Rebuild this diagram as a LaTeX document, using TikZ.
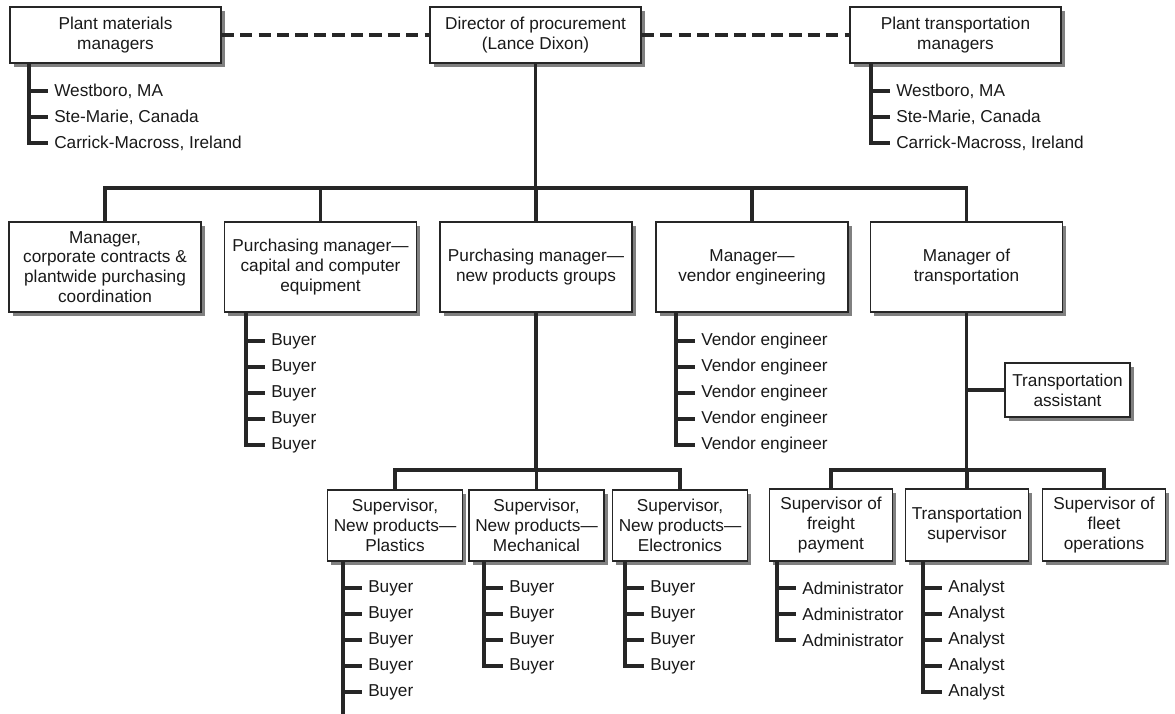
\documentclass[tikz,border=0pt]{standalone}
\usepackage{fontspec}
\setmainfont{Liberation Sans}
\usetikzlibrary{shadows}

\tikzset{
  box/.style={draw=black!85, fill=white, line width=0.8pt, align=center, inner sep=0pt,
    text=black!90, font=\fontsize{9.8}{11.3}\selectfont,
    drop shadow={shadow xshift=2.2pt, shadow yshift=-2.2pt, fill=black!50, opacity=1}},
  topbox/.style={box, minimum width=4.22cm, minimum height=1.12cm},
  midbox/.style={box, minimum width=3.84cm, minimum height=1.8cm},
  lowbox/.style={box, minimum width=2.7cm, minimum height=1.42cm},
  trbox/.style={box, minimum width=2.46cm, minimum height=1.44cm},
  member/.style={anchor=west, inner xsep=4.5pt, inner ysep=0pt, text=black!90,
    font=\fontsize{9.8}{11.3}\selectfont},
  conn/.style={line width=2.1pt, black!85, line cap=rect},
  dashline/.style={line width=2.1pt, black!85, dash pattern=on 7pt off 3.5pt},
}

\begin{document}
\begin{tikzpicture}[x=0.02cm, y=-0.02cm]
  \useasboundingbox (0,0) rectangle (1175,713);

  % top row
  \node[topbox] (pmm) at (115.5,35) {Plant materials\\managers};
  \node[topbox] (dir) at (535.5,35) {Director of procurement\\(Lance Dixon)};
  \node[topbox] (ptm) at (955.5,35) {Plant transportation\\managers};

  \draw[dashline] (pmm.east) -- (dir.west);
  \draw[dashline] (dir.east) -- (ptm.west);

  % managers
  \node[midbox] (corp) at (105,267) {Manager,\\corporate contracts \&\\plantwide purchasing\\coordination};
  \node[midbox] (capital) at (320.5,267) {Purchasing manager—\\capital and computer\\equipment};
  \node[midbox] (newprod) at (536,267) {Purchasing manager—\\new products groups};
  \node[midbox] (vendor) at (752,267) {Manager—\\vendor engineering};
  \node[midbox] (transp) at (966.5,267) {Manager of\\transportation};
  \node[box, minimum width=2.5cm, minimum height=1.08cm] (assist) at (1067.5,390) {Transportation\\assistant};

  \coordinate (bus1) at (535.5,188);
  \draw[conn] (dir.south) -- (bus1);
  \draw[conn] (corp.north) |- (bus1) -| (transp.north);
  \draw[conn] (capital.north) -- (capital.north |- bus1);
  \draw[conn] (newprod.north) -- (newprod.north |- bus1);
  \draw[conn] (vendor.north) -- (vendor.north |- bus1);
  \draw[conn] (assist.west) -- (assist.west -| transp.south);

  % supervisors
  \node[lowbox] (plast) at (395,525.5) {Supervisor,\\New products—\\Plastics};
  \node[lowbox] (mech) at (536.5,525.5) {Supervisor,\\New products—\\Mechanical};
  \node[lowbox] (elec) at (680,525.5) {Supervisor,\\New products—\\Electronics};
  \node[trbox] (freight) at (831,525) {Supervisor of\\freight\\payment};
  \node[trbox] (tsup) at (967,525) {Transportation\\supervisor};
  \node[trbox] (fleet) at (1104,525) {Supervisor of\\fleet\\operations};

  \coordinate (bus2) at (536,470);
  \draw[conn] (newprod.south) -- (bus2);
  \draw[conn] (plast.north) |- (bus2) -| (elec.north);
  \draw[conn] (mech.north) -- (mech.north |- bus2);

  \coordinate (bus3) at (966.5,470);
  \draw[conn] (transp.south) -- (bus3);
  \draw[conn] (freight.north) |- (bus3) -| (fleet.north);
  \draw[conn] (tsup.north) -- (tsup.north |- bus3);

  % plant sites
  \foreach \t/\y [count=\i] in {{Westboro, MA}/91, {Ste-Marie, Canada}/117, {Carrick-Macross, Ireland}/143}{
    \node[member] (pm\i) at (46,\y) {\t};
    \draw[conn] (pm\i.west) -- ++(-17,0);
    \node[member] (pt\i) at (888,\y) {\t};
    \draw[conn] (pt\i.west) -- ++(-17,0);
  }
  \draw[conn] (pm3.west) ++(-17,0) coordinate (pmc) -- (pmc |- pmm.south);
  \draw[conn] (pt3.west) ++(-17,0) coordinate (ptc) -- (ptc |- ptm.south);

  % buyers and vendor engineers
  \foreach \y [count=\i] in {341,367,393,419,445}{
    \node[member] (cb\i) at (263,\y) {Buyer};
    \draw[conn] (cb\i.west) -- ++(-17,0);
    \node[member] (ve\i) at (693,\y) {Vendor engineer};
    \draw[conn] (ve\i.west) -- ++(-17,0);
  }
  \draw[conn] (cb5.west) ++(-17,0) coordinate (cbc) -- (cbc |- capital.south);
  \draw[conn] (ve5.west) ++(-17,0) coordinate (vec) -- (vec |- vendor.south);

  % new products buyers
  \foreach \y [count=\i] in {588,614,640,666,692}{
    \node[member] (pb\i) at (360,\y) {Buyer};
    \draw[conn] (pb\i.west) -- ++(-17,0);
    \node[member] (an\i) at (940,\y) {Analyst};
    \draw[conn] (an\i.west) -- ++(-17,0);
  }
  \coordinate (pbend) at (343,713);
  \draw[conn] (pbend) -- (pbend |- plast.south);
  \draw[conn] (an5.west) ++(-17,0) coordinate (anc) -- (anc |- tsup.south);

  \foreach \y [count=\i] in {588,614,640,666}{
    \node[member] (mb\i) at (501,\y) {Buyer};
    \draw[conn] (mb\i.west) -- ++(-17,0);
    \node[member] (eb\i) at (642,\y) {Buyer};
    \draw[conn] (eb\i.west) -- ++(-17,0);
  }
  \draw[conn] (mb4.west) ++(-17,0) coordinate (mbc) -- (mbc |- mech.south);
  \draw[conn] (eb4.west) ++(-17,0) coordinate (ebc) -- (ebc |- elec.south);

  \foreach \y [count=\i] in {588,614,640}{
    \node[member] (ad\i) at (794,\y) {Administrator};
    \draw[conn] (ad\i.west) -- ++(-17,0);
  }
  \draw[conn] (ad3.west) ++(-17,0) coordinate (adc) -- (adc |- freight.south);
\end{tikzpicture}
\end{document}
